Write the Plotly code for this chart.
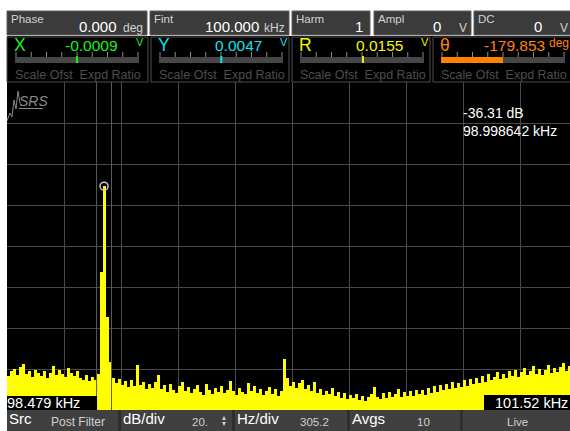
import numpy as np
import plotly.graph_objects as go

# ---------------- spectrum data ----------------
# FFT magnitude (dB) in uniform bins starting at start_khz
start_khz = 98.4525
bin_khz = 0.0160632
level_db = [
    -127.3, -124.9, -128.8, -126.3, -125.4, -128.3, -124.4, -122.9, -127.8, -126.3,
    -129.3, -125.8, -127.3, -128.8, -126.3, -129.8, -127.3, -123.9, -128.3, -125.8,
    -127.8, -129.3, -124.9, -127.3, -128.8, -126.3, -129.8, -130.7, -128.3, -131.2,
    -129.3, -130.7, -127.8, -78.4, -36.31, -100.0, -121.9, -129.8, -132.2, -130.2,
    -133.2, -131.2, -134.2, -130.7, -133.7, -123.4, -133.2, -131.7, -135.1, -132.7,
    -134.6, -131.7, -128.3, -135.1, -133.2, -136.6, -132.7, -135.6, -137.1, -133.7,
    -131.7, -136.1, -134.2, -137.1, -135.1, -133.2, -136.6, -138.1, -132.7, -135.6,
    -137.6, -134.6, -136.6, -133.7, -137.1, -135.6, -131.2, -136.1, -138.1, -134.6,
    -136.6, -137.6, -132.2, -136.1, -133.7, -137.1, -135.1, -138.1, -136.1, -134.2,
    -137.6, -135.1, -138.6, -136.1, -120.5, -129.8, -133.7, -131.7, -134.6, -132.2,
    -130.7, -135.1, -133.2, -136.1, -131.7, -137.1, -135.1, -138.1, -136.1, -137.6,
    -134.6, -138.6, -136.6, -139.5, -137.1, -140.0, -138.1, -139.5, -137.6, -140.5,
    -138.6, -141.0, -139.0, -137.6, -134.2, -139.0, -140.0, -137.1, -139.5, -136.6,
    -139.0, -137.6, -135.1, -139.0, -136.6, -138.6, -136.1, -138.6, -135.6, -137.6,
    -135.6, -138.1, -134.6, -137.1, -133.7, -136.6, -133.2, -135.6, -132.7, -135.1,
    -131.7, -134.6, -132.2, -134.2, -130.7, -133.7, -130.2, -132.7, -129.8, -132.2,
    -128.8, -131.7, -127.8, -130.7, -129.3, -126.8, -130.2, -127.8, -129.8, -126.3,
    -128.8, -125.8, -129.3, -126.8, -124.9, -128.3, -126.3, -123.9, -127.8, -125.4,
    -128.3, -125.8, -123.4, -127.3, -124.9, -126.8, -124.4, -122.4, -126.3, -123.9,
]

# marker readout
marker_khz = 98.998642
marker_db = -36.31
cursor_half_khz = 0.040

# display span
span_start_khz = 98.479
span_stop_label = "101.52 kHz"
hz_per_div = 305.2
db_per_div = 20
ref_top_db = 14.5
n_ydiv = 8

# header parameters
param_names = ["Phase", "Fint", "Harm", "Ampl", "DC"]
param_values = ["0.000", "100.000", "1", "0", "0"]
param_units = ["deg", "kHz", "", "V", "V"]

# channel readings
chan_names = ["X", "Y", "R", "θ"]
chan_values = [-0.0009, 0.0047, 0.0155, -179.853]
chan_text = ["-0.0009", "0.0047", "0.0155", "-179.853"]
chan_units = ["V", "V", "V", "deg"]
chan_full_scale = [1.0, 1.0, 1.0, 180.0]
chan_colors = ["#1ef01e", "#14e1f5", "#f5f500", "#ff8200"]

# bottom soft-key bar
key_names = ["Src", "dB/div", "Hz/div", "Avgs", ""]
key_values = ["Post Filter", "20.", "305.2", "10", "Live"]

# ---------------- geometry helpers (pixel -> paper) ----------------
W, H = 570, 431
FONT = "Liberation Sans, Arial, sans-serif"
NARROW = "Liberation Sans Narrow, Arial Narrow, Liberation Sans, sans-serif"


def px(x):
    return x / W


def py(y):
    return 1 - y / H


shapes = []
annotations = []


def rect(x0, y0, x1, y1, fill, line=None, lw=1):
    shapes.append(dict(
        type="rect", xref="paper", yref="paper", layer="above",
        x0=px(x0), x1=px(x1), y0=py(y1), y1=py(y0),
        fillcolor=fill,
        line=dict(color=line if line else fill, width=lw if line else 0),
    ))


def hline_px(x0, x1, y, color, lw=1):
    shapes.append(dict(type="line", xref="paper", yref="paper", layer="above",
                       x0=px(x0), x1=px(x1), y0=py(y), y1=py(y),
                       line=dict(color=color, width=lw)))


def vline_px(x, y0, y1, color, lw=1):
    shapes.append(dict(type="line", xref="paper", yref="paper", layer="above",
                       x0=px(x), x1=px(x), y0=py(y0), y1=py(y1),
                       line=dict(color=color, width=lw)))


def poly(pts, fill):
    path = "M " + " L ".join(f"{px(x):.5f},{py(y):.5f}" for x, y in pts) + " Z"
    shapes.append(dict(type="path", xref="paper", yref="paper", layer="above",
                       path=path, fillcolor=fill, line=dict(width=0)))


def text(x, y, s, size, color, anchor="left", family=FONT):
    annotations.append(dict(
        xref="paper", yref="paper", x=px(x), y=py(y), text=s,
        showarrow=False, xanchor=anchor, yanchor="middle",
        font=dict(size=size, color=color, family=family), borderpad=0,
    ))


# ---------------- header row 1: parameter boxes ----------------
param_boxes = [(7, 147), (150, 289), (292, 370), (374, 471), (474, 572)]
for (x0, x1), name, val, unit in zip(param_boxes, param_names, param_values, param_units):
    rect(x0, 11, x1, 35, "#3b3b3b", "#5e5e5e")
    text(x0 + 3, 19.5, name, 11.5, "#d2d2d2")
    if unit:
        text(x1 - 3, 28, unit, 12, "#d2d2d2", anchor="right")
        text(x1 - 29, 26.5, val, 15, "#ffffff", anchor="right")
    else:
        text(x1 - 6, 26.5, val, 15, "#ffffff", anchor="right")

# ---------------- header row 2: channel meters ----------------
rect(7, 36, 572, 82, "#000000")
chan_boxes = [(7, 148), (151, 289), (292, 430), (433, 572)]
for (x0, x1), name, val, txt, unit, fs, col in zip(
        chan_boxes, chan_names, chan_values, chan_text, chan_units, chan_full_scale, chan_colors):
    rect(x0, 37, x1, 82, "#000000", "#4c4c4c")
    text(x0 + 6, 45, name, 17.5, col)
    if unit == "V":
        text(x0 + 112, 45.5, txt, 15.5, col, anchor="right")
        text(x0 + 128, 42, unit, 11, col)
    else:
        text(x0 + 113, 45.5, txt, 15.5, col, anchor="right")
        text(x0 + 115, 43, unit, 12, col)
    b0, b1 = x0 + 8, x0 + 132
    rect(b0, 57, b1, 63, "#474747")
    for i in range(9):
        tx = b0 + 1 + i * (b1 - b0 - 2) / 8
        vline_px(tx, 52, 57, "#8c8c8c")
    mid = (b0 + b1) / 2
    pos = mid + (val / fs) * (b1 - b0) / 2
    if unit == "deg":
        rect(min(mid, pos), 57, max(mid, pos), 63, col)
    else:
        rect(pos - 1, 56, pos + 1, 63, col)
    text(x0 + 7, 74.5, "Scale Ofst  Expd Ratio", 12.5, "#4e4e4e", family=NARROW)

# ---------------- spectrum ----------------
floor_db = ref_top_db - n_ydiv * db_per_div
chart_left_px = 7
px_per_div = 57
view_stop_khz = span_start_khz + (W - chart_left_px) / px_per_div * hz_per_div / 1000

fig = go.Figure()
fig.add_trace(go.Bar(
    x0=start_khz, dx=bin_khz, y=np.array(level_db) - floor_db, base=floor_db,
    marker=dict(color="#ffff00", line=dict(width=0)), width=bin_khz * 1.02,
    hoverinfo="skip", showlegend=False,
))
fig.add_trace(go.Scatter(
    x=[marker_khz], y=[marker_db], mode="markers",
    marker=dict(symbol="circle-open", size=8, color="#c8c8c8", line=dict(width=1.5, color="#c8c8c8")),
    hoverinfo="skip", showlegend=False,
))

# cursor window edges
for edge in (marker_khz - cursor_half_khz, marker_khz + cursor_half_khz):
    shapes.append(dict(type="line", xref="x", yref="y", layer="above",
                       x0=edge, x1=edge, y0=floor_db, y1=ref_top_db,
                       line=dict(color="#5c5c5c", width=1)))

# marker readout
text(462, 112.5, f"{marker_db:.2f} dB", 14, "#ffffff")
text(462, 130.5, f"{marker_khz:.6f} kHz", 14, "#ffffff")

# start / stop frequency labels
rect(7, 396, 97, 410, "#000000")
text(6, 403, f"{span_start_khz:.3f} kHz", 14.5, "#ffffff")
rect(484, 395, 572, 410, "#000000")
text(569, 402.5, span_stop_label, 14.5, "#ffffff", anchor="right")

# SRS logo
logo_pts = [(7, 121), (10, 113), (12, 117), (14, 100), (16, 109), (18, 91), (20, 103)]
path = "M " + " L ".join(f"{px(x):.5f},{py(y):.5f}" for x, y in logo_pts)
shapes.append(dict(type="path", xref="paper", yref="paper", path=path, layer="above",
                   line=dict(color="#8a8a8a", width=1)))
text(18, 101, "<i>SRS</i>", 14, "#8a8a8a")
hline_px(19, 43, 108.5, "#8a8a8a", 1)

# ---------------- bottom soft-key bar ----------------
key_boxes = [(7, 118), (121, 232), (235, 347), (350, 460), (463, 572)]
rect(7, 410, 572, 431, "#2e2e2e")
for (x0, x1), name, val in zip(key_boxes, key_names, key_values):
    rect(x0, 410, x1, 431, "#404040")
    if name:
        text(x0 + 1, 418, name, 15, "#ffffff")
    if name == "Src":
        text(x0 + 43, 422, val, 12, "#d0d0d0")
    elif name == "dB/div":
        text(x0 + 70, 422, val, 11.5, "#d0d0d0")
        # spinner arrows
        poly([(222, 420), (226, 420), (224, 416)], "#d0d0d0")
        poly([(222, 422), (226, 422), (224, 426)], "#d0d0d0")
    elif name == "Hz/div":
        text(x0 + 79, 422, val, 11.5, "#d0d0d0", anchor="center")
    elif name == "Avgs":
        text(x0 + 73, 422, val, 11.5, "#d0d0d0", anchor="center")
    else:
        text(x0 + 54, 422, val, 11.5, "#d0d0d0", anchor="center")

fig.update_layout(
    width=W, height=H,
    margin=dict(l=0, r=0, t=0, b=0),
    paper_bgcolor="#ffffff",
    plot_bgcolor="#000000",
    bargap=0,
    showlegend=False,
    xaxis=dict(domain=[px(chart_left_px), 1], range=[span_start_khz, view_stop_khz],
               tick0=span_start_khz, dtick=hz_per_div / 1000,
               showgrid=True, gridcolor="#4a4a4a", gridwidth=1,
               showticklabels=False, ticks="", zeroline=False, showline=False, fixedrange=True),
    yaxis=dict(domain=[py(410), py(82)], range=[floor_db, ref_top_db],
               tick0=floor_db, dtick=db_per_div,
               showgrid=True, gridcolor="#4a4a4a", gridwidth=1,
               showticklabels=False, ticks="", zeroline=False, showline=False, fixedrange=True),
    shapes=shapes,
    annotations=annotations,
)

fig.write_html("out.html")
